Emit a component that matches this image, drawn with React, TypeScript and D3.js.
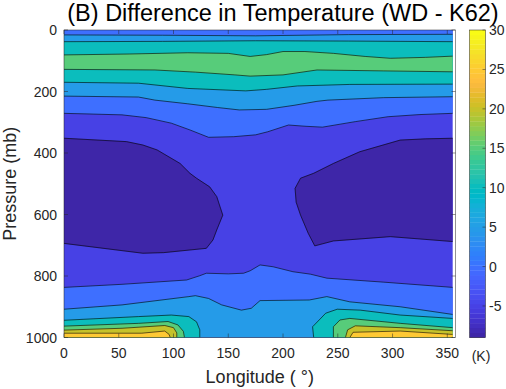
import React from 'react';
import * as d3 from 'd3';

const W = 506;
const H = 389;
const plot = { left: 64, right: 455.5, top: 30, bottom: 337.5 };

// axes / colour limits
const lonDomain = [0, 357.5];
const dataLonMax = 355;
const pressureDomain = [0, 1000];
const colorLimits = [-9, 30];
const levels = [-5, 0, 5, 10, 15, 20, 25];
const lonTicks = [0, 50, 100, 150, 200, 250, 300, 350];
const pressureTicks = [0, 200, 400, 600, 800, 1000];
const colorTicks = [-5, 0, 5, 10, 15, 20, 25, 30];

// isolines, [longitude, pressure]
type P = [number, number];
const upper5: P[] = [[0, 16], [90, 17], [175, 19], [260, 15], [355, 14]];
const upper10: P[] = [[0, 38], [90, 37], [175, 35], [260, 36], [355, 38]];
const upper15: P[] = [[0, 81], [60, 78], [113, 74], [150, 76], [170, 86], [185, 80], [200, 70], [220, 70], [246, 76], [275, 86], [298, 92], [330, 89], [355, 85]];
const lower15: P[] = [[0, 128], [83, 130], [120, 137], [156, 146], [170, 150], [200, 146], [231, 130], [292, 133], [355, 136]];
const lower10: P[] = [[0, 170], [68, 173], [113, 190], [166, 198], [185, 193], [213, 182], [261, 177], [355, 176]];
const lower5: P[] = [[0, 215], [68, 218], [83, 228], [113, 240], [140, 252], [160, 260], [185, 258], [210, 245], [231, 232], [241, 228], [292, 220], [355, 217]];
const zeroUpper: P[] = [[0, 271], [53, 276], [75, 285], [98, 303], [115, 325], [132, 349], [155, 347], [175, 341], [186, 331], [205, 309], [220, 313], [236, 316], [266, 298], [296, 282], [325, 275], [355, 271]];
const coldWest: P[] = [[0, 352], [57, 363], [72, 374], [85, 390], [106, 434], [115, 466], [121, 482], [133, 510], [139.5, 542], [142.5, 575], [145, 602], [139.5, 650], [136, 683], [130, 710], [91, 724], [72, 726], [0, 694]];
const coldEast: P[] = [[355, 352], [330, 354], [307, 358], [270, 396], [246, 434], [228, 466], [216, 482], [211, 515], [212, 560], [216, 602], [223, 661], [229, 702], [246, 686], [298, 672], [355, 688]];
const zeroLower: P[] = [[0, 837], [53, 827], [112, 813], [124, 799], [130, 791], [150, 793], [164, 791], [170, 783], [179, 764], [191, 770], [209, 786], [225, 794], [240, 807], [292, 820], [355, 837]];
const fiveLower: P[] = [[0, 908], [53, 894], [114, 867], [120, 864], [132, 873], [144, 894], [162, 911], [171, 905], [179, 880], [224, 878], [240, 867], [261, 884], [307, 900], [355, 925]];
const tenWest: P[] = [[0, 944], [68, 932], [98, 927], [114, 932], [121, 949], [124, 975], [124, 1000]];
const tenEast: P[] = [[228, 1000], [227, 965], [239, 921], [249.5, 908], [270.5, 911], [307, 927], [355, 938]];
const fifteenWest: P[] = [[0, 963], [68, 954], [95, 948], [104, 959], [109, 980], [110, 1000]];
const fifteenEast: P[] = [[246, 1000], [246, 965], [252, 943], [261, 938], [307, 954], [355, 968]];
const twentyWest: P[] = [[0, 976], [53, 970], [92, 961], [100, 968], [103, 985], [103, 1000]];
const twentyEast: P[] = [[257, 1000], [259, 975], [266, 962], [307, 968], [355, 978]];
const t25West: P[] = [[0, 986], [71, 986], [92, 979], [96, 990], [97, 1000]];
const t25East: P[] = [[261, 1000], [264, 983], [307, 979], [355, 990]];

// parula, 64 entries
const parula = [
  [0.2422, 0.1504, 0.6603], [0.2504, 0.165, 0.7076], [0.2578, 0.1818, 0.7511], [0.2647, 0.1978, 0.7952],
  [0.2706, 0.2147, 0.8364], [0.2751, 0.2342, 0.871], [0.2783, 0.2559, 0.8991], [0.2803, 0.2782, 0.9221],
  [0.2813, 0.3006, 0.9414], [0.281, 0.3228, 0.9579], [0.2795, 0.3447, 0.9717], [0.276, 0.3667, 0.9829],
  [0.2699, 0.3892, 0.9906], [0.2602, 0.4123, 0.9952], [0.244, 0.4358, 0.9988], [0.2206, 0.4603, 0.9973],
  [0.1963, 0.4847, 0.9892], [0.1834, 0.5074, 0.9798], [0.1786, 0.5289, 0.9682], [0.1764, 0.5499, 0.952],
  [0.1687, 0.5703, 0.9359], [0.154, 0.5902, 0.9218], [0.146, 0.6091, 0.9079], [0.138, 0.6276, 0.8973],
  [0.1248, 0.6459, 0.8883], [0.1113, 0.6635, 0.8763], [0.0952, 0.6798, 0.8598], [0.0689, 0.6948, 0.8394],
  [0.0297, 0.7082, 0.8163], [0.0036, 0.7203, 0.7917], [0.0067, 0.7312, 0.766], [0.0433, 0.7411, 0.7394],
  [0.0964, 0.75, 0.712], [0.1408, 0.7584, 0.6842], [0.1717, 0.767, 0.6554], [0.1938, 0.7758, 0.6251],
  [0.2161, 0.7843, 0.5923], [0.247, 0.7918, 0.5567], [0.2906, 0.7973, 0.5188], [0.3406, 0.8008, 0.4789],
  [0.3909, 0.8029, 0.4354], [0.4456, 0.8024, 0.3909], [0.5044, 0.7993, 0.348], [0.5616, 0.7942, 0.3045],
  [0.6174, 0.7876, 0.2612], [0.672, 0.7793, 0.2227], [0.7242, 0.7698, 0.191], [0.7738, 0.7598, 0.1646],
  [0.8203, 0.7498, 0.1535], [0.8634, 0.7406, 0.1596], [0.9035, 0.733, 0.1774], [0.9393, 0.7288, 0.21],
  [0.9728, 0.7298, 0.2394], [0.9956, 0.7434, 0.2371], [0.997, 0.7659, 0.2199], [0.9952, 0.7893, 0.2028],
  [0.9892, 0.8136, 0.1885], [0.9786, 0.8386, 0.1766], [0.9676, 0.8639, 0.1643], [0.961, 0.889, 0.1537],
  [0.9597, 0.9135, 0.1423], [0.9628, 0.9373, 0.1265], [0.9691, 0.9606, 0.1064], [0.9769, 0.9839, 0.0805],
].map(([r, g, b]) => d3.rgb(r * 255, g * 255, b * 255).formatHex());

const font = '"Liberation Sans", Arial, Helvetica, sans-serif';
const axisColor = '#262626';

export default function App() {
  const x = d3.scaleLinear().domain(lonDomain).range([plot.left, plot.right]);
  const y = d3.scaleLinear().domain(pressureDomain).range([plot.top, plot.bottom]);
  const color = d3.scaleQuantize<string>().domain(colorLimits).range(parula);
  const cb = d3.scaleLinear().domain(colorLimits).range([plot.bottom, plot.top]);

  const line = d3.line<P>().x((d) => x(d[0])).y((d) => y(d[1]));
  const poly = (pts: P[]) => line(pts) + 'Z';

  const [p0, p1] = pressureDomain;
  const xe = dataLonMax;

  // painter's order: each region at or above a level
  const fills: { d: string; c: string }[] = [
    { d: poly([[0, p0], [xe, p0], [xe, p1], [0, p1]]), c: color(levels[0]) },
    { d: poly(coldWest), c: color(colorLimits[0]) },
    { d: poly(coldEast), c: color(colorLimits[0]) },
    { d: poly([[0, p0], [xe, p0], ...zeroUpper.slice().reverse()]), c: color(levels[1]) },
    { d: poly([...zeroLower, [xe, p1], [0, p1]]), c: color(levels[1]) },
    { d: poly([...upper5, ...lower5.slice().reverse()]), c: color(levels[2]) },
    { d: poly([...fiveLower, [xe, p1], [0, p1]]), c: color(levels[2]) },
    { d: poly([...upper10, ...lower10.slice().reverse()]), c: color(levels[3]) },
    { d: poly([...tenWest, [0, p1]]), c: color(levels[3]) },
    { d: poly([...tenEast, [xe, p1]]), c: color(levels[3]) },
    { d: poly([...upper15, ...lower15.slice().reverse()]), c: color(levels[4]) },
    { d: poly([...fifteenWest, [0, p1]]), c: color(levels[4]) },
    { d: poly([...fifteenEast, [xe, p1]]), c: color(levels[4]) },
    { d: poly([...twentyWest, [0, p1]]), c: color(levels[5]) },
    { d: poly([...twentyEast, [xe, p1]]), c: color(levels[5]) },
    { d: poly([...t25West, [0, p1]]), c: color(levels[6]) },
    { d: poly([...t25East, [xe, p1]]), c: color(levels[6]) },
  ];

  const isolines = [upper5, upper10, upper15, lower15, lower10, lower5, zeroUpper, coldWest, coldEast,
    zeroLower, fiveLower, tenWest, tenEast, fifteenWest, fifteenEast, twentyWest, twentyEast, t25West, t25East];

  const tickLen = 4;
  const n = parula.length;
  const step = (colorLimits[1] - colorLimits[0]) / n;
  const cbX = 469.5;
  const cbW = 16;

  return (
    <svg width={W} height={H} style={{ position: 'absolute', left: 0, top: 0, background: '#fff' }} fontFamily={font}>
      <defs>
        <clipPath id="plotclip">
          <rect x={plot.left} y={plot.top} width={x(xe) - plot.left} height={plot.bottom - plot.top} />
        </clipPath>
      </defs>
      <g clipPath="url(#plotclip)">
        {fills.map((f, i) => (
          <path key={i} d={f.d} fill={f.c} stroke={f.c} strokeWidth={0.4} />
        ))}
        {isolines.map((l, i) => (
          <path key={i} d={line(l) || ''} fill="none" stroke="#000" strokeWidth={0.6} />
        ))}
      </g>

      {/* axes box and ticks */}
      <rect x={plot.left} y={plot.top} width={plot.right - plot.left} height={plot.bottom - plot.top}
        fill="none" stroke={axisColor} strokeWidth={0.5} />
      {lonTicks.map((t) => (
        <g key={t}>
          <line x1={x(t)} x2={x(t)} y1={plot.bottom} y2={plot.bottom - tickLen} stroke={axisColor} strokeWidth={0.5} />
          <line x1={x(t)} x2={x(t)} y1={plot.top} y2={plot.top + tickLen} stroke={axisColor} strokeWidth={0.5} />
          <text x={x(t)} y={358} fontSize={14} textAnchor="middle" fill={axisColor}>{t}</text>
        </g>
      ))}
      {pressureTicks.map((t) => (
        <g key={t}>
          <line x1={plot.left} x2={plot.left + tickLen} y1={y(t)} y2={y(t)} stroke={axisColor} strokeWidth={0.5} />
          <line x1={plot.right} x2={plot.right - tickLen} y1={y(t)} y2={y(t)} stroke={axisColor} strokeWidth={0.5} />
          <text x={57} y={y(t) + 5} fontSize={14} textAnchor="end" fill={axisColor}>{t}</text>
        </g>
      ))}

      <text x={283} y={21} fontSize={23.5} textAnchor="middle" fill="#000">(B) Difference in Temperature (WD - K62)</text>
      <text x={(plot.left + plot.right) / 2} y={383} fontSize={18} textAnchor="middle" fill={axisColor}>Longitude ( °)</text>
      <text transform={`translate(16,${(plot.top + plot.bottom) / 2}) rotate(-90)`} fontSize={18} textAnchor="middle" fill={axisColor}>Pressure (mb)</text>

      {/* colorbar */}
      {parula.map((c, i) => {
        const v0 = colorLimits[0] + i * step;
        return <rect key={i} x={cbX} y={cb(v0 + step)} width={cbW} height={cb(v0) - cb(v0 + step) + 0.3} fill={c} />;
      })}
      <rect x={cbX} y={plot.top} width={cbW} height={plot.bottom - plot.top} fill="none" stroke={axisColor} strokeWidth={0.5} />
      {colorTicks.map((t) => (
        <g key={t}>
          <line x1={cbX + cbW} x2={cbX + cbW - 3} y1={cb(t)} y2={cb(t)} stroke={axisColor} strokeWidth={0.5} />
          <text x={489} y={cb(t) + 5} fontSize={14} fill={axisColor}>{t}</text>
        </g>
      ))}
      <text x={481} y={361} fontSize={14} textAnchor="middle" fill={axisColor}>(K)</text>
    </svg>
  );
}
